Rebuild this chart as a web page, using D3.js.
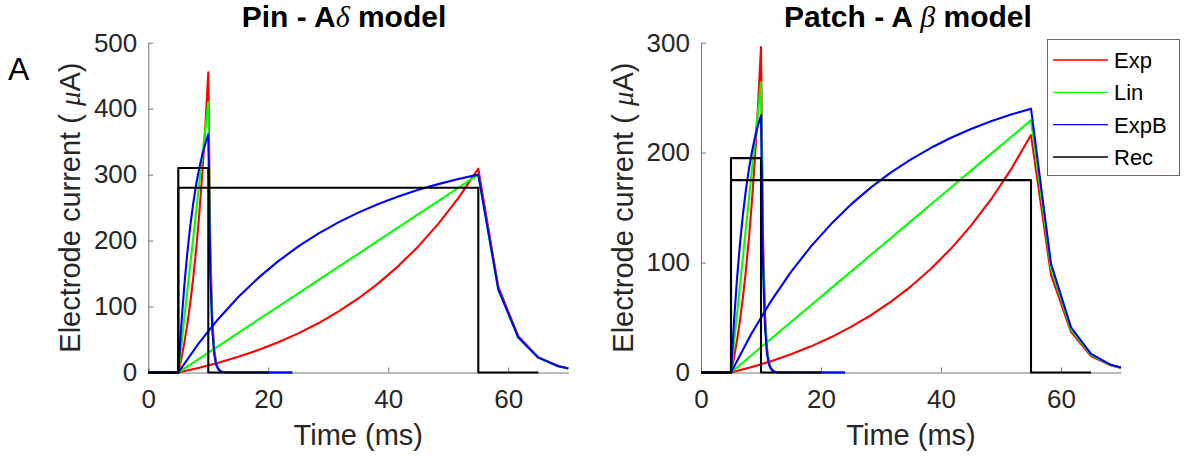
<!DOCTYPE html>
<html>
<head>
<meta charset="utf-8">
<script src="https://cdn.jsdelivr.net/npm/d3@7/dist/d3.min.js"></script>
<style>
  html, body { margin: 0; padding: 0; background: #fff; }
  svg { display: block; font-family: "Liberation Sans", Arial, Helvetica, sans-serif; }
</style>
</head>
<body>
<svg id="chart" width="1191" height="466"></svg>
<script>
// ---- Data ----
const timeShort = [0, 5, 5.5, 6, 6.5, 7, 7.5, 8, 8.5, 9, 9.5, 10, 10.33, 10.67, 11, 11.33, 11.67, 12, 12.33, 12.67, 13, 24];
const timeLong = [0, 5, 8.33, 11.67, 15, 18.33, 21.67, 25, 28.33, 31.67, 35, 38.33, 41.67, 45, 48.33, 51.67, 55, 58.33, 61.67, 65, 68.33, 70];
const recTimeShort = [0, 5, 5, 10, 10, 20];
const recTimeLong = [0, 5, 5, 55, 55, 65];

// Pin - A delta model
const pinExpShort  = [0, 0, 20.7, 44.8, 73, 105.8, 144.1, 188.7, 240.8, 301.6, 372.4, 455, 191, 80, 34, 14, 6, 2.5, 1, 0.4, 0, 0];
const pinLinShort  = [0, 0, 41, 82, 123, 164, 205, 246, 287, 328, 369, 410, 172, 72, 30, 13, 5.4, 2.3, 1, 0.4, 0, 0];
const pinExpBShort = [0, 0, 71.6, 131.4, 181.2, 222.7, 257.3, 286.2, 310.2, 330.3, 347, 361, 152, 64, 27, 11, 4.8, 2, 0.85, 0.36, 0, 0];
const pinExpLong   = [0, 0, 6.9, 14.8, 23.8, 34.1, 45.8, 59.3, 74.6, 92.2, 112.2, 135.1, 161.3, 191.2, 225.3, 264.4, 309, 130, 55, 23, 9.8, 6.3];
const pinLinLong   = [0, 0, 20, 40, 60, 80, 100, 120, 140, 160, 180, 200, 220, 240, 260, 280, 300, 126, 53, 22.5, 9.5, 6.1];
const pinExpBLong  = [0, 0, 43.3, 81.2, 114.4, 143.4, 168.8, 191.1, 210.5, 227.6, 242.4, 255.5, 266.9, 276.9, 285.6, 293.3, 300, 126, 53, 22.5, 9.5, 6.1];
const pinRecShort  = [0, 0, 310, 310, 0, 0];
const pinRecLong   = [0, 0, 280, 280, 0, 0];

// Patch - A beta model
const patchExpShort  = [0, 0, 13.5, 29.1, 47.5, 68.8, 93.7, 122.8, 156.6, 196.2, 242.3, 296, 124, 52, 22, 9.2, 3.9, 1.6, 0.7, 0.3, 0, 0];
const patchLinShort  = [0, 0, 26.4, 52.8, 79.2, 105.6, 132, 158.4, 184.8, 211.2, 237.6, 264, 111, 47, 20, 8.2, 3.5, 1.5, 0.6, 0.25, 0, 0];
const patchExpBShort = [0, 0, 46.4, 85.2, 117.4, 144.3, 166.8, 185.5, 201.1, 214.1, 224.9, 234, 98, 41, 17, 7.3, 3.1, 1.3, 0.5, 0.2, 0, 0];
const patchExpLong   = [0, 0, 4.8, 10.3, 16.6, 23.8, 32, 41.5, 52.1, 64.4, 78.4, 94.4, 112.7, 133.6, 157.4, 184.7, 216, 89, 37, 15, 6.3, 4.1];
const patchLinLong   = [0, 0, 15.3, 30.6, 45.9, 61.2, 76.5, 91.8, 107.1, 122.4, 137.7, 153, 168.3, 183.6, 198.9, 214.2, 229.5, 95, 39, 16, 6.7, 4.4];
const patchExpBLong  = [0, 0, 34.6, 65, 91.5, 114.7, 135, 152.9, 168.4, 182.1, 193.9, 204.4, 213.5, 221.5, 228.5, 234.6, 240, 99, 41, 17, 7, 4.6];
const patchRecShort  = [0, 0, 195, 195, 0, 0];
const patchRecLong   = [0, 0, 175, 175, 0, 0];

const xTicks = [0, 20, 40, 60];
const pinYTicks = [0, 100, 200, 300, 400, 500];
const patchYTicks = [0, 100, 200, 300];
const legendLabels = ["Exp", "Lin", "ExpB", "Rec"];
const seriesColors = ["#ff0000", "#00ff00", "#0000ff", "#000000"];

// ---- Drawing ----
const svg = d3.select("#chart");
const AX = "#262626";

function panel(cfg) {
  const x = d3.scaleLinear().domain([0, 70]).range([cfg.left, cfg.left + 420]);
  const y = d3.scaleLinear().domain([0, cfg.yMax]).range([372.5, 42.7]);
  const g = svg.append("g");
  const clipId = "clip" + cfg.id;
  svg.append("clipPath").attr("id", clipId).append("rect")
    .attr("x", cfg.left - 2).attr("y", 30).attr("width", 423).attr("height", 350);

  // axes
  const xa = g.append("g").attr("transform", `translate(0,${y(0)})`)
    .call(d3.axisBottom(x).tickValues(xTicks).tickSizeInner(-5).tickSizeOuter(0).tickPadding(17));
  const ya = g.append("g").attr("transform", `translate(${x(0)},0)`)
    .call(d3.axisLeft(y).tickValues(cfg.yTicks).tickSizeInner(-5).tickSizeOuter(0).tickPadding(11));
  [xa, ya].forEach(a => {
    a.select(".domain").attr("stroke", "#555").attr("stroke-width", 0.8);
    a.selectAll(".tick line").attr("stroke", "#555").attr("stroke-width", 0.8);
    a.selectAll(".tick text").attr("fill", AX).attr("font-size", 26)
      .attr("font-family", '"Liberation Sans", Arial, sans-serif');
  });

  const lines = g.append("g").attr("clip-path", `url(#${clipId})`);
  const line = d3.line().x(d => x(d[0])).y(d => y(d[1]));
  const draw = (ts, vs, color) => {
    lines.append("path").datum(ts.map((t, i) => [t, vs[i]]))
      .attr("d", line).attr("fill", "none").attr("stroke", color)
      .attr("stroke-width", 2.1)
      .attr("stroke-linejoin", "round");
  };
  cfg.series.forEach((s, i) => {
    draw(s.shortT, s.short, seriesColors[i]);
    draw(s.longT, s.long, seriesColors[i]);
  });

  // title
  const tt = g.append("text").attr("x", cfg.titleX).attr("y", 27)
    .attr("text-anchor", "middle").attr("font-size", 30).attr("font-weight", "bold").attr("fill", "#000");
  tt.append("tspan").text(cfg.titlePre);
  tt.append("tspan").attr("font-family", '"Liberation Serif", "DejaVu Serif", serif')
    .attr("font-style", "italic").attr("font-weight", "normal").text(cfg.greek);
  tt.append("tspan").text(cfg.titlePost);

  // axis labels
  g.append("text").attr("x", (x(0) + x(70)) / 2).attr("y", 445)
    .attr("text-anchor", "middle").attr("font-size", 29).attr("fill", AX).text("Time (ms)");
  const yl = g.append("text")
    .attr("transform", `translate(${x(0) - 68},${(y(0) + y(cfg.yMax)) / 2}) rotate(-90)`)
    .attr("text-anchor", "middle").attr("font-size", 29).attr("fill", AX);
  yl.append("tspan").text("Electrode current ( ");
  yl.append("tspan").attr("font-family", '"Liberation Serif", "DejaVu Serif", serif')
    .attr("font-style", "italic").text("\u03bc");
  yl.append("tspan").text("A)");
}

panel({
  id: "pin", left: 148.3, yMax: 500, yTicks: pinYTicks, titleX: 344,
  titlePre: "Pin - A", greek: "\u03b4", titlePost: " model",
  series: [
    { shortT: timeShort, short: pinExpShort, longT: timeLong, long: pinExpLong },
    { shortT: timeShort, short: pinLinShort, longT: timeLong, long: pinLinLong },
    { shortT: timeShort, short: pinExpBShort, longT: timeLong, long: pinExpBLong },
    { shortT: recTimeShort, short: pinRecShort, longT: recTimeLong, long: pinRecLong }
  ]
});
panel({
  id: "patch", left: 701, yMax: 300, yTicks: patchYTicks, titleX: 908,
  titlePre: "Patch - A ", greek: "\u03b2", titlePost: " model",
  series: [
    { shortT: timeShort, short: patchExpShort, longT: timeLong, long: patchExpLong },
    { shortT: timeShort, short: patchLinShort, longT: timeLong, long: patchLinLong },
    { shortT: timeShort, short: patchExpBShort, longT: timeLong, long: patchExpBLong },
    { shortT: recTimeShort, short: patchRecShort, longT: recTimeLong, long: patchRecLong }
  ]
});

// panel letter
svg.append("text").attr("x", 8).attr("y", 80).attr("font-size", 32).attr("fill", "#000").text("A");

// legend
const lg = svg.append("g");
lg.append("rect").attr("x", 1047.5).attr("y", 39.5).attr("width", 132).attr("height", 136)
  .attr("fill", "#fff").attr("stroke", "#666").attr("stroke-width", 1);
const legendY = d3.scalePoint().domain(legendLabels).range([60, 157]);
legendLabels.forEach((lab, i) => {
  const yy = legendY(lab);
  lg.append("line").attr("x1", 1053).attr("x2", 1108).attr("y1", yy).attr("y2", yy)
    .attr("stroke", seriesColors[i]).attr("stroke-width", 1.3);
  lg.append("text").attr("x", 1114).attr("y", yy).attr("dy", "0.36em")
    .attr("font-size", 22).attr("fill", "#000").text(lab);
});
</script>
</body>
</html>
